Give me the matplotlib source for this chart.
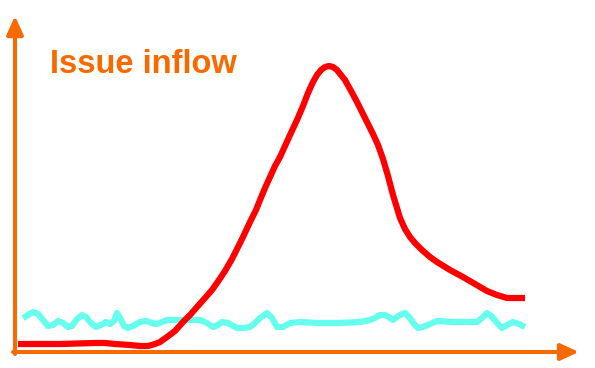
import matplotlib
matplotlib.use("Agg")
import matplotlib.pyplot as plt

# Canvas units (x to the right, y upward from the bottom edge)
W, H = 595, 368

title = "Issue inflow"

red_x = [18, 60, 95, 105, 115, 130, 140, 148, 155, 160, 167, 175, 183, 190, 197, 205,
         212, 217, 225, 232, 238, 243, 250, 256, 260, 265, 270, 275, 280, 285, 290, 297,
         303, 308, 313, 317, 321, 325, 329, 333, 337, 341, 345, 350, 357, 365, 373, 378,
         383, 388, 393, 397, 400, 405, 410, 415, 422, 430, 437, 450, 463, 475, 487, 497,
         507, 516, 525]
red_y = [24, 24, 25, 25, 24, 23, 22, 22, 24, 26, 31, 37, 46, 53, 61, 70,
         78, 85, 97, 109, 121, 131, 146, 158, 168, 180, 191, 202, 211, 222, 233, 248,
         262, 275, 286, 293, 298, 301, 302, 301, 298, 293, 288, 279, 266, 250, 234, 223,
         209, 192, 173, 160, 150, 139, 131, 125, 118, 111, 106, 98, 91, 84, 77, 73,
         70, 70, 70]

cyan_x = [23, 28, 33, 38, 43, 48, 53, 58, 63, 68, 72, 77, 82, 86, 91, 96, 101, 106,
          110, 114, 117, 120, 124, 128, 133, 140, 146, 152, 157, 162, 167, 177, 190, 200,
          207, 213, 218, 222, 228, 237, 244, 250, 255, 260, 267, 272, 277, 283, 290, 300,
          317, 340, 360, 370, 375, 380, 385, 389, 393, 397, 400, 405, 410, 414, 418, 423,
          430, 437, 453, 477, 482, 487, 490, 493, 498, 502, 507, 513, 519, 525]
cyan_y = [50, 53, 56, 54, 48, 42, 43, 47, 45, 41, 42, 49, 53, 51, 45, 41, 43, 46,
          44, 47, 55, 50, 42, 40, 42, 46, 47, 45, 44, 46, 48, 48, 48, 48,
          45, 41, 43, 46, 45, 40, 40, 41, 45, 50, 55, 50, 41, 41, 45, 46,
          45, 45, 46, 48, 50, 53, 53, 51, 48, 51, 53, 55, 50, 44, 40, 41,
          44, 47, 46, 46, 50, 55, 53, 50, 44, 40, 43, 46, 44, 41]

ORANGE = "#F76A00"
RED = "#FF0000"
CYAN = "#66FFEE"

fig = plt.figure(figsize=(W / 100, H / 100), dpi=100)
ax = fig.add_axes([0, 0, 1, 1])
ax.set_xlim(0, W)
ax.set_ylim(0, H)
ax.axis("off")

# axes with arrows
arrow = dict(arrowstyle="-|>,head_length=1.1,head_width=0.5", lw=2.9,
             color=ORANGE, shrinkA=0, shrinkB=0, mutation_scale=10)
ax.annotate("", xy=(579, 16), xytext=(13, 16), arrowprops=arrow)
ax.annotate("", xy=(15, 352), xytext=(15, 14), arrowprops=arrow)

ax.plot(cyan_x, cyan_y, color=CYAN, lw=4.5, solid_joinstyle="round",
        solid_capstyle="butt", zorder=3)
ax.plot(red_x, red_y, color=RED, lw=4.5, solid_joinstyle="round",
        solid_capstyle="butt", zorder=4)

ax.text(50, H - 73, title, color=ORANGE, fontsize=23.5, fontweight="bold",
        family=["Liberation Sans", "DejaVu Sans"], va="baseline", ha="left")

fig.savefig("out.png", dpi=100)
